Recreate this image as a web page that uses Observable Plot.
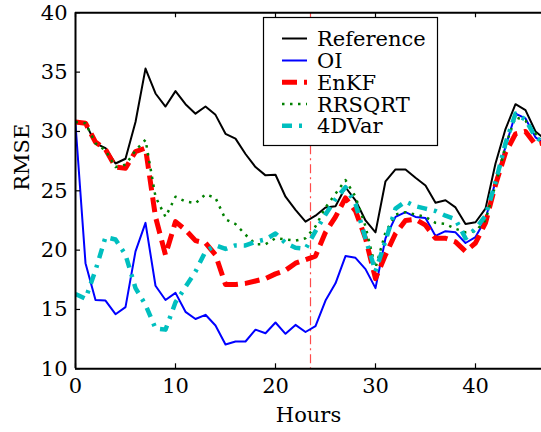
<!DOCTYPE html>
<html><head><meta charset="utf-8">
<script src="https://cdn.jsdelivr.net/npm/d3@7"></script>
<script src="https://cdn.jsdelivr.net/npm/@observablehq/plot@0.6"></script>
<style>body{margin:0;background:#fff}#chart svg{display:block}</style>
</head><body><div id="chart"></div>
<script>
const hours = [0,1,2,3,4,5,6,7,8,9,10,11,12,13,14,15,16,17,18,19,20,21,22,23,24,25,26,27,28,29,30,31,32,33,34,35,36,37,38,39,40,41,42,43,44,45,46,47];
const reference = [30.8,30.7,29.0,28.6,27.3,27.7,30.8,35.3,33.2,32.1,33.4,32.3,31.5,32.1,31.4,29.8,29.4,28.1,27.0,26.3,26.35,24.5,23.4,22.4,22.9,23.6,23.7,25.3,24.2,22.5,21.5,25.8,26.8,26.8,26.1,25.45,24.0,24.2,23.6,22.2,22.35,23.5,27.3,30.2,32.3,31.8,30.0,29.3];
const oi = [30.6,18.9,15.8,15.75,14.6,15.2,19.9,22.3,17.0,15.8,16.4,14.8,14.2,14.55,13.65,12.05,12.3,12.3,13.3,13.0,13.9,12.95,13.7,13.1,13.6,15.75,17.2,19.5,19.35,18.4,16.8,21.0,22.8,23.2,22.8,22.7,21.2,21.6,21.5,20.6,21.1,22.6,25.8,28.7,31.5,31.1,29.5,28.9];
const enkf = [30.8,30.7,29.1,28.5,27.0,26.9,28.3,28.6,22.8,19.6,22.4,21.7,20.8,20.6,19.6,17.1,17.1,17.2,17.4,17.6,18.0,18.3,18.9,19.2,19.5,21.5,22.8,24.4,23.3,21.0,17.6,19.6,21.4,22.5,22.6,22.1,21.0,21.0,20.7,19.9,20.6,22.3,25.5,28.2,29.8,30.0,28.9,29.1];
const rrsqrt = [30.8,30.7,29.0,28.4,27.0,27.2,28.4,29.3,24.5,22.8,24.5,24.1,23.95,24.7,24.4,22.6,22.2,21.3,20.5,20.5,21.0,20.9,20.8,21.0,22.0,23.6,24.75,25.9,24.5,22.0,18.5,21.5,23.0,23.2,23.0,22.8,22.3,22.2,21.8,21.5,21.6,22.5,25.5,28.8,31.2,30.9,29.8,29.2];
const fourdvar = [16.3,15.9,18.3,21.1,20.9,19.6,16.8,15.4,13.4,13.3,15.6,16.9,18.2,19.9,20.4,20.1,20.4,20.4,20.7,20.9,21.4,20.6,20.2,20.1,21.6,23.0,24.3,25.3,23.9,21.0,18.2,20.8,23.5,24.1,23.7,23.5,23.3,22.9,22.6,21.0,21.8,22.9,25.7,29.0,31.5,31.0,29.5,29.0];
const seriesNames = ["Reference","OI","EnKF","RRSQRT","4DVar"];
const seriesValues = [reference, oi, enkf, rrsqrt, fourdvar];
const xTicks = [0,10,20,30,40];
const yTicks = [10,15,20,25,30,35,40];
const markerHour = [23.5];

const styles = {
  "Reference": {stroke:"#000000", strokeWidth:2, dash:null},
  "OI": {stroke:"#0000ff", strokeWidth:2, dash:null},
  "EnKF": {stroke:"#ff0000", strokeWidth:5, dash:"15,7"},
  "RRSQRT": {stroke:"#008000", strokeWidth:2.5, dash:"2.5,5.5"},
  "4DVar": {stroke:"#00bfbf", strokeWidth:4.5, dash:"10,7,3,7"}
};
const FONT = "'DejaVu Serif', 'Liberation Serif', serif";

const W = 541, H = 432, mL = 75, mR = 0, mT = 12.3, mB = 63.7;
const plotW = W - mL - mR, plotH = H - mT - mB;

const lineMarks = seriesNames.map((name, k) => {
  const rows = hours.map((h, i) => ({hour: h, value: seriesValues[k][i]}));
  const s = styles[name];
  return Plot.line(rows, {x:"hour", y:"value", stroke:s.stroke, strokeWidth:s.strokeWidth,
    strokeDasharray:s.dash || undefined, strokeLinejoin:"round",
    strokeLinecap: s.dash ? "butt" : "round", clip:true});
});

const chart = Plot.plot({
  width: W, height: H,
  marginLeft: mL, marginRight: mR, marginTop: mT, marginBottom: mB,
  x: {domain:[0,46.6]},
  y: {domain:[10,40]},
  style: {fontFamily:FONT, fontSize:"21px", background:"white", color:"black"},
  marks: [
    Plot.ruleX(markerHour, {stroke:"#ff4a4a", strokeWidth:1.2, strokeDasharray:"9,4,2,4"}),
    ...lineMarks,
    Plot.ruleX([0], {strokeWidth:2}),
    Plot.ruleY([10,40], {strokeWidth:2}),
    Plot.tickX(xTicks, {x:d=>d, insetTop: plotH-5, strokeWidth:1.2}),
    Plot.tickX(xTicks, {x:d=>d, insetBottom: plotH-5, strokeWidth:1.2}),
    Plot.tickY(yTicks, {y:d=>d, insetRight: plotW-5, strokeWidth:1.2}),
    Plot.axisX(xTicks, {tickSize:0, tickPadding:9, label:null, fontSize:21}),
    Plot.axisY(yTicks, {tickSize:0, tickPadding:8, label:null, fontSize:21}),
    Plot.text(["Hours"], {frameAnchor:"bottom", dy:53, fontSize:21}),
    Plot.text(["RMSE"], {frameAnchor:"left", dx:-53, rotate:-90, fontSize:21})
  ]
});
document.getElementById("chart").appendChild(chart);

// legend
const svg = d3.select(chart);
const lg = svg.append("g").attr("text-anchor","start");
lg.append("rect").attr("x",263.5).attr("y",17.5).attr("width",174).attr("height",128)
  .attr("fill","white").attr("stroke","black").attr("stroke-width",1.2);
const rowY = [38.5, 60.5, 82.3, 104, 125.8];
seriesNames.forEach((name, i) => {
  const s = styles[name];
  lg.append("line").attr("x1",282).attr("x2",307).attr("y1",rowY[i]).attr("y2",rowY[i])
    .attr("stroke",s.stroke).attr("stroke-width",s.strokeWidth)
    .attr("stroke-linecap","butt")
    .attr("stroke-dasharray", s.dash || null);
  lg.append("text").attr("x",317).attr("y",rowY[i]+7.5)
    .style("text-anchor","start")
    .style("font-family",FONT).style("font-size","21px").attr("fill","black")
    .text(name);
});
</script></body></html>
